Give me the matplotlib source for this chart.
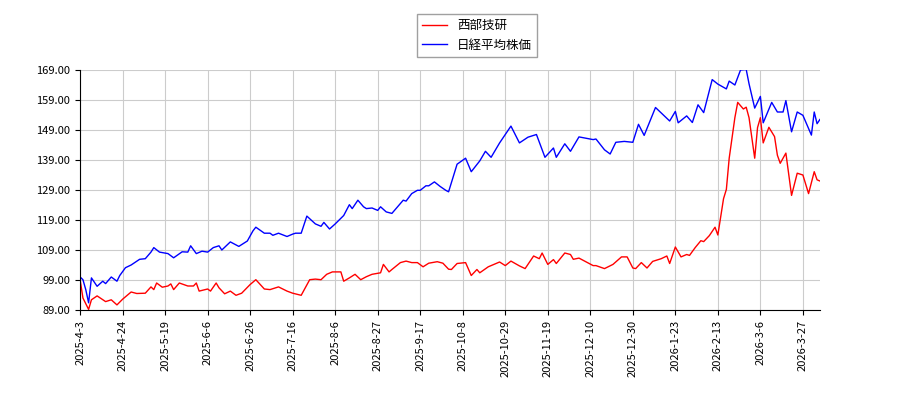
import matplotlib
matplotlib.use("Agg")
import matplotlib.pyplot as plt

plt.rcParams['font.family'] = ['Noto Sans CJK JP', 'DejaVu Sans']

# trading-day index and values
red_day = [0, 1, 3, 4, 6, 9, 11, 13, 15, 18, 20, 23, 25, 26, 27, 29, 31, 32, 33, 35, 38, 40, 41, 42, 45, 46, 48, 49, 51, 53,
           55, 57, 60, 62, 65, 67, 70, 73, 75, 78, 81, 83, 85, 87, 89, 92, 93, 95, 97, 99, 101, 103, 106, 107, 109, 110, 113,
           115, 117, 119, 121, 123, 126, 128, 130, 131, 133, 136, 138, 140, 141, 144, 148, 150, 152, 155, 157, 160, 162, 163,
           165, 167, 168, 171, 173, 174, 176, 178, 181, 182, 185, 188, 191, 193, 195, 196, 198, 200, 202, 205, 207, 208, 210,
           212, 214, 215, 217, 219, 220, 222, 224, 225, 227, 228, 229, 230, 231, 232, 234, 235, 236, 238, 239, 240, 241, 243,
           245, 246, 247, 249, 251, 253, 255, 257, 259, 260, 261]
red_val = [99.1, 93.0, 89.2, 92.4, 93.7, 91.8, 92.4, 90.7, 92.6, 95.0, 94.5, 94.6, 96.7, 95.8, 98.0, 96.6, 97.0, 97.7, 95.8, 98.0,
           97.0, 97.0, 98.0, 95.3, 96.0, 95.3, 98.0, 96.4, 94.4, 95.3, 93.9, 94.6, 97.5, 99.1, 96.0, 95.8, 96.7, 95.3, 94.6, 93.9,
           99.1, 99.3, 99.1, 100.9, 101.7, 101.7, 98.6, 99.7, 100.9, 99.1, 100.1, 100.9, 101.4, 104.2, 101.7, 102.5, 104.8, 105.3,
           104.8, 104.8, 103.4, 104.6, 105.1, 104.6, 102.6, 102.5, 104.5, 104.8, 100.5, 102.5, 101.4, 103.4, 105.0, 103.8, 105.3,
           103.7, 102.8, 107.0, 106.1, 108.0, 104.2, 105.8, 104.5, 108.0, 107.5, 105.9, 106.3, 105.3, 103.8, 103.8, 102.8, 104.2,
           106.7, 106.7, 103.0, 102.8, 104.8, 103.0, 105.2, 106.1, 107.0, 104.5, 110.0, 106.7, 107.5, 107.2, 109.8, 112.1, 111.8,
           113.8, 116.6, 114.0, 126.1, 129.2, 139.6, 146.4, 153.1, 158.2, 156.0, 156.6, 153.1, 139.6, 149.8, 153.1, 144.7, 149.9,
           146.8, 140.6, 137.9, 141.3, 127.2, 134.6, 134.0, 127.8, 135.1, 132.4, 132.0]

blue_day = [0, 1, 2, 3, 4, 6, 8, 9, 11, 13, 14, 16, 18, 21, 23, 25, 26, 28, 31, 33, 36, 38, 39, 41, 43, 45, 47, 49, 50, 53, 56,
            59, 61, 62, 65, 67, 68, 70, 73, 75, 76, 78, 80, 83, 85, 86, 88, 90, 93, 95, 96, 98, 100, 101, 103, 105, 106, 108,
            110, 112, 114, 115, 117, 119, 120, 122, 123, 125, 127, 129, 130, 133, 136, 138, 141, 143, 145, 148, 152, 155, 158,
            161, 164, 167, 168, 171, 173, 176, 181, 182, 185, 187, 189, 192, 195, 197, 199, 203, 208, 210, 211, 214, 216, 218,
            220, 223, 225, 228, 229, 231, 233, 235, 236, 238, 240, 241, 244, 246, 248, 249, 251, 253, 255, 258, 259, 260, 261]
blue_val = [100.0, 99.1, 95.8, 91.4, 99.7, 96.9, 98.6, 97.8, 100.0, 98.6, 100.5, 103.1, 104.0, 105.9, 106.1, 108.3, 109.8, 108.3,
            107.8, 106.4, 108.4, 108.3, 110.4, 107.8, 108.6, 108.3, 109.8, 110.4, 109.0, 111.7, 110.2, 112.0, 115.4, 116.6, 114.6,
            114.6, 113.9, 114.6, 113.5, 114.3, 114.6, 114.6, 120.3, 117.7, 116.9, 118.2, 116.0, 117.7, 120.5, 124.1, 122.8, 125.6,
            123.4, 122.8, 123.0, 122.2, 123.4, 121.7, 121.2, 123.4, 125.6, 125.3, 127.8, 128.9, 128.9, 130.4, 130.4, 131.7, 130.2,
            128.9, 128.4, 137.6, 139.6, 135.1, 138.7, 141.9, 139.9, 144.7, 150.3, 144.7, 146.6, 147.5, 139.9, 143.0, 139.9, 144.4,
            141.9, 146.7, 145.8, 146.0, 142.4, 141.0, 144.9, 145.2, 144.9, 150.9, 147.2, 156.5, 152.0, 155.2, 151.4, 153.7, 151.5,
            157.4, 154.8, 165.8, 164.3, 162.7, 165.3, 164.0, 169.0, 169.2, 164.4, 156.3, 160.2, 151.4, 158.2, 155.0, 155.0, 158.8,
            148.4, 155.0, 153.9, 147.3, 155.0, 151.1, 152.5]

tick_labels = ['2025-4-3', '2025-4-24', '2025-5-19', '2025-6-6', '2025-6-26', '2025-7-16', '2025-8-6', '2025-8-27',
               '2025-9-17', '2025-10-8', '2025-10-29', '2025-11-19', '2025-12-10', '2025-12-30', '2026-1-23',
               '2026-2-13', '2026-3-6', '2026-3-27']
y_ticks = [89, 99, 109, 119, 129, 139, 149, 159, 169]

fig = plt.figure(figsize=(9, 4), dpi=100)
ax = fig.add_axes([0.089, 0.225, 0.822, 0.6])
ax.plot(red_day, red_val, color='red', lw=1, label='西部技研')
ax.plot(blue_day, blue_val, color='blue', lw=1, label='日経平均株価')

ax.set_xlim(0, 261)
ax.set_ylim(89, 169)
ax.set_xticks([i * 15 for i in range(len(tick_labels))])
ax.set_xticklabels(tick_labels, rotation=90, fontsize=8)
ax.set_yticks(y_ticks)
ax.set_yticklabels(['%.2f' % v for v in y_ticks], fontsize=8)
ax.grid(True, color='#cccccc', lw=0.8)
for s in ['top', 'right']:
    ax.spines[s].set_visible(False)

fig.legend(loc='upper center', bbox_to_anchor=(0.53, 0.98), fontsize=9, fancybox=False, edgecolor='#888888')
fig.savefig('out.png')
